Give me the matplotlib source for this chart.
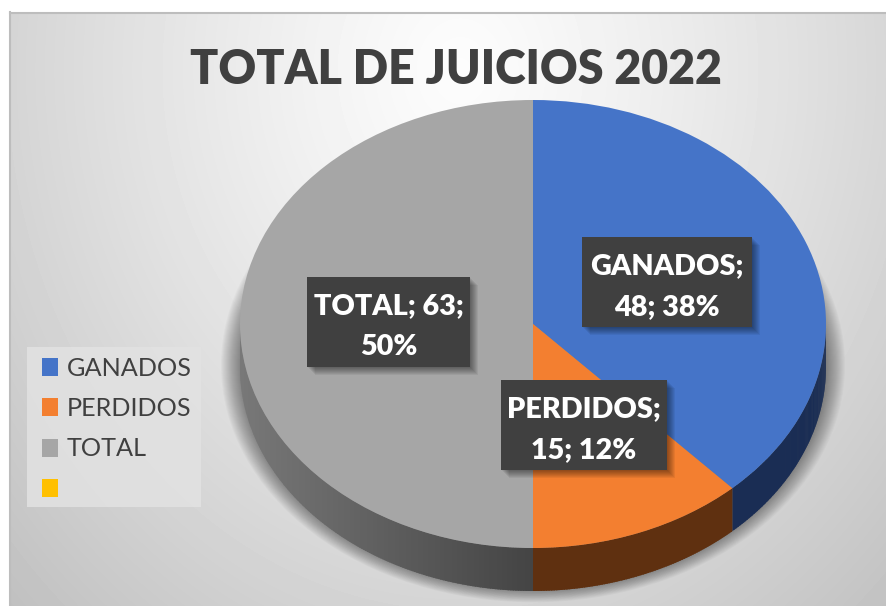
import numpy as np
import matplotlib
matplotlib.use("Agg")
import matplotlib.pyplot as plt
from matplotlib.patches import Ellipse, Rectangle, Patch
from matplotlib.colors import to_rgb

W, H = 887, 606
TITLE = "TOTAL DE JUICIOS 2022"
categories = ["GANADOS", "PERDIDOS", "TOTAL", ""]
values = [48, 15, 63, 0]
colors = ["#4574C8", "#F37F30", "#A6A6A6", "#FFC000"]
side_colors = ["#1A2D54", "#5F3010", "#474747", "#FFC000"]
label_lines = [("GANADOS;", "48; 38%"), ("PERDIDOS;", "15; 12%"), ("TOTAL; 63;", "50%")]
label_boxes = [(582, 237, 170, 90), (501, 380, 166, 90), (307, 277, 163, 90)]

plt.rcParams["font.family"] = ["Lato", "DejaVu Sans"]
fig = plt.figure(figsize=(W / 100, H / 100), dpi=100, facecolor="white")


def fig_axes(x0, y0, x1, y1, **kw):
    return fig.add_axes([x0 / W, 1 - y1 / H, (x1 - x0) / W, (y1 - y0) / H], **kw)


# background: pixel-coordinate axes, y down
bg = fig_axes(0, 0, W, H)
bg.axis("off")
yy, xx = np.mgrid[12:H, 10:W]
r = np.hypot((xx - 460) / 470, (yy - 70) / 560)
g = np.clip(0.99 - 0.165 * r ** 1.2, 0, 1)
bg.imshow(g, extent=(10, W, H, 12), cmap="gray", vmin=0, vmax=1, aspect="auto", zorder=0)
bg.set_xlim(0, W)
bg.set_ylim(H, 0)
bg.plot([10, W], [12.5, 12.5], color="#BDBDBD", lw=1.5, zorder=1)
bg.plot([10.5, 10.5], [12, H], color="#BDBDBD", lw=1.5, zorder=1)

# soft drop shadow
PX0, PX1, PY0, PY1 = 240, 826, 100, 548
DEPTH = 43
cx, cy = (PX0 + PX1) / 2, (PY0 + PY1) / 2
rx, ry = (PX1 - PX0) / 2, (PY1 - PY0) / 2
for k in range(19, -1, -1):
    bg.add_patch(Ellipse((cx, cy + DEPTH - 2), 2 * (rx + k), 2 * (ry + k * 0.7),
                         fc="black", ec="none", alpha=0.025, zorder=2))

# pie with squashed axes and room for the rim underneath
ax = fig_axes(PX0, PY0, PX1, PY1 + DEPTH)
wedges, _ = ax.pie(values, colors=colors, startangle=90, counterclock=False, radius=1,
                   wedgeprops=dict(linewidth=0, zorder=5))
ax.set_aspect("auto")
ax.set_xlim(-1, 1)
d = DEPTH / ry
ax.set_ylim(-1 - d, 1)
ax.patch.set_alpha(0)

# rim: only the part of each wedge's arc on the near side of the pie
gray_dark = np.array(to_rgb("#444444"))
gray_light = np.array(to_rgb("#787878"))
for w, base in zip(wedges, side_colors):
    t = np.arange(w.theta1, w.theta2 + 0.5, 0.5)
    t[-1] = min(t[-1], w.theta2)
    for t0, t1 in zip(t[:-1], t[1:]):
        tm = np.radians((t0 + t1) / 2)
        if np.sin(tm) >= 0:
            continue
        th = np.radians([t0, min(t1 + 0.3, w.theta2)])
        xs, ys = np.cos(th), np.sin(th)
        if w is wedges[2]:
            f = np.clip(-np.cos(tm), 0, 1)
            col = gray_dark * (1 - f) + gray_light * f
        else:
            col = base
        ax.fill([xs[0], xs[1], xs[1], xs[0]], [ys[0], ys[1], ys[1] - d, ys[0] - d],
                color=col, lw=0, zorder=3)

# labels
top = fig_axes(0, 0, W, H)
top.set_xlim(0, W)
top.set_ylim(H, 0)
top.axis("off")
top.patch.set_alpha(0)
for (x, y, w, h), (l1, l2) in zip(label_boxes, label_lines):
    for k in range(8, 0, -1):
        top.add_patch(Rectangle((x + k, y + k), w, h, fc="black", ec="none", alpha=0.06))
    top.add_patch(Rectangle((x, y), w, h, fc="#404040", ec="none"))
    for dy, s in ((29, l1), (70, l2)):
        top.text(x + w / 2, y + dy, s, color="white", fontsize=20.7, fontweight="heavy",
                 ha="center", va="center")

top.text(456, 70, TITLE, color="#404040", fontsize=33.5, fontweight="heavy",
         ha="center", va="center")

# legend
top.add_patch(Rectangle((27, 347), 174, 160, fc="#E2E2E2", ec="none", alpha=0.85))
handles = [Patch(fc=c, ec="none", label=n) for c, n in zip(colors, categories)]
leg = top.legend(handles=handles, loc="upper left",
                 bbox_to_anchor=(42 / W, 1 - 357 / H), bbox_transform=fig.transFigure,
                 prop=dict(size=18.2), labelcolor="#404040", frameon=False,
                 handlelength=0.64, handleheight=0.72, handletextpad=0.35,
                 labelspacing=0.68, borderpad=0, borderaxespad=0)

fig.savefig("out.png", dpi=100, facecolor="white")
